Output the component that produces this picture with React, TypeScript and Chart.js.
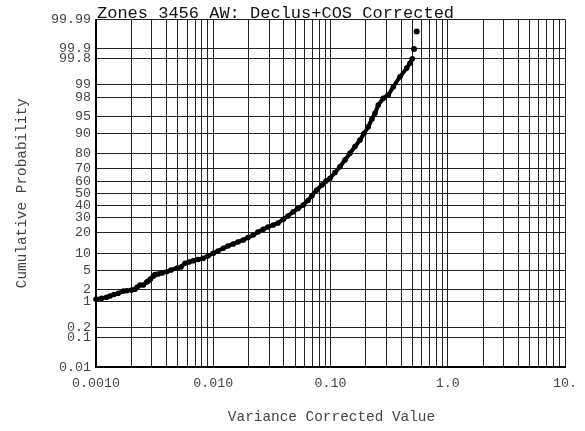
import React, { useEffect, useRef } from 'react';
import { Chart, registerables } from 'chart.js';

Chart.register(...registerables);

// Variance corrected values (x) and cumulative probability in percent (p)
const xValues = [
  0.00100, 0.001118, 0.001234, 0.001316, 0.001424, 0.001549, 0.001709, 0.001827, 0.002016, 0.002151,
  0.002237, 0.002373, 0.002532, 0.002706, 0.002793, 0.002916, 0.003082, 0.003185, 0.003380, 0.003655,
  0.004009, 0.004363, 0.004879, 0.005309, 0.005741, 0.006212, 0.006759, 0.007412, 0.008225, 0.009020,
  0.01001, 0.01098, 0.01218, 0.01336, 0.01483, 0.01626, 0.01804, 0.01979, 0.02196, 0.02408,
  0.02673, 0.02931, 0.03252, 0.03566, 0.03957, 0.04340, 0.04816, 0.05282, 0.05861, 0.06428,
  0.06954, 0.07627, 0.08462, 0.09153, 0.0990, 0.1092, 0.1205, 0.1329, 0.1466, 0.1618,
  0.1785, 0.1931, 0.2101, 0.2258, 0.2396, 0.2556, 0.2820, 0.3112, 0.3434, 0.3915,
  0.4466, 0.4764, 0.4986,
];
const pValues = [
  1.16, 1.23, 1.30, 1.39, 1.51, 1.61, 1.82, 1.85, 1.92, 1.99,
  2.21, 2.48, 2.48, 2.87, 3.02, 3.32, 3.83, 4.07, 4.20, 4.39,
  4.66, 5.02, 5.41, 5.72, 6.69, 7.06, 7.44, 7.81, 8.19, 8.96,
  9.94, 10.82, 11.94, 12.95, 13.87, 14.85, 15.87, 17.19, 18.58, 20.35,
  22.02, 23.50, 24.84, 26.21, 28.86, 31.31, 34.65, 37.21, 40.07, 43.83,
  48.08, 52.77, 57.01, 60.34, 62.55, 67.15, 71.51, 76.17, 80.38, 84.15,
  87.28, 89.95, 92.28, 94.40, 95.65, 97.05, 97.89, 98.23, 98.87, 99.37,
  99.63, 99.73, 99.80,
];
const topX = [0.5154, 0.5435];
const topP = [99.90, 99.973];

const probTicks = [0.01, 0.1, 0.2, 1, 2, 5, 10, 20, 30, 40, 50, 60, 70, 80, 90, 95, 98, 99, 99.8, 99.9, 99.99];
const probLabels = ['0.01', '0.1', '0.2', '1', '2', '5', '10', '20', '30', '40', '50', '60', '70', '80', '90', '95', '98', '99', '99.8', '99.9', '99.99'];
const decadeValues = [0.001, 0.01, 0.1, 1, 10];
const decadeLabels = ['0.0010', '0.010', '0.10', '1.0', '10.'];

const titleText = 'Zones 3456 AW: Declus+COS Corrected';
const xTitle = 'Variance Corrected Value';
const yTitle = 'Cumulative Probability';

const FONT = '"Liberation Mono", "DejaVu Sans Mono", monospace';

function probit(p: number): number {
  const a = [-3.969683028665376e1, 2.209460984245205e2, -2.759285104469687e2, 1.38357751867269e2, -3.066479806614716e1, 2.506628277459239];
  const b = [-5.447609879822406e1, 1.615858368580409e2, -1.556989798598866e2, 6.680131188771972e1, -1.328068155288572e1];
  const c = [-7.784894002430293e-3, -3.223964580411365e-1, -2.400758277161838, -2.549732539343734, 4.374664141464968, 2.938163982698783];
  const d = [7.784695709041462e-3, 3.224671290700398e-1, 2.445134137142996, 3.754408661907416];
  const plow = 0.02425;
  const phigh = 1 - plow;
  if (p < plow) {
    const q = Math.sqrt(-2 * Math.log(p));
    return (((((c[0] * q + c[1]) * q + c[2]) * q + c[3]) * q + c[4]) * q + c[5]) / ((((d[0] * q + d[1]) * q + d[2]) * q + d[3]) * q + 1);
  }
  if (p <= phigh) {
    const q = p - 0.5;
    const r = q * q;
    return ((((((a[0] * r + a[1]) * r + a[2]) * r + a[3]) * r + a[4]) * r + a[5]) * q) / (((((b[0] * r + b[1]) * r + b[2]) * r + b[3]) * r + b[4]) * r + 1);
  }
  const q = Math.sqrt(-2 * Math.log(1 - p));
  return -(((((c[0] * q + c[1]) * q + c[2]) * q + c[3]) * q + c[4]) * q + c[5]) / ((((d[0] * q + d[1]) * q + d[2]) * q + d[3]) * q + 1);
}

function gridXValues(): number[] {
  const out: number[] = [];
  for (let e = -3; e <= 0; e++) {
    for (let k = 1; k <= 9; k++) out.push(k * Math.pow(10, e));
  }
  out.push(10);
  return out;
}

const textPlugin = {
  id: 'texts',
  afterDraw(chart: any) {
    const ctx = chart.ctx;
    const area = chart.chartArea;
    ctx.save();
    ctx.fillStyle = '#111';
    ctx.font = `17px ${FONT}`;
    ctx.textAlign = 'left';
    ctx.textBaseline = 'alphabetic';
    ctx.fillText(titleText, 97, 17.5);

    ctx.fillStyle = '#444';
    ctx.font = `14.4px ${FONT}`;
    ctx.textAlign = 'center';
    ctx.textBaseline = 'middle';
    ctx.fillText(xTitle, (area.left + area.right) / 2 + 1, 417);

    ctx.translate(22, (area.top + area.bottom) / 2);
    ctx.rotate(-Math.PI / 2);
    ctx.fillText(yTitle, 0, 0);
    ctx.restore();
  },
};

export default function App() {
  const ref = useRef<HTMLCanvasElement | null>(null);

  useEffect(() => {
    if (!ref.current) return;
    const mainData = xValues.map((x, i) => ({ x, y: probit(pValues[i] / 100) }));
    const topData = topX.map((x, i) => ({ x, y: probit(topP[i] / 100) }));
    const gx = gridXValues();

    const chart = new Chart(ref.current, {
      type: 'scatter',
      data: {
        datasets: [
          {
            data: mainData,
            showLine: true,
            borderColor: '#000',
            borderWidth: 4,
            backgroundColor: '#000',
            pointRadius: 2.8,
            pointBorderWidth: 0,
            clip: false as any,
          },
          {
            data: topData,
            showLine: false,
            backgroundColor: '#000',
            pointRadius: 3,
            pointBorderWidth: 0,
            clip: false as any,
          },
        ],
      },
      options: {
        responsive: false,
        animation: false,
        events: [],
        layout: { padding: { top: 19.5, right: 20, left: 0, bottom: 0 } },
        plugins: {
          legend: { display: false },
          tooltip: { enabled: false },
          title: { display: false },
        },
        scales: {
          x: {
            type: 'logarithmic',
            min: 0.001,
            max: 10,
            afterBuildTicks: (s: any) => {
              s.ticks = gx.map((v) => ({ value: v }));
            },
            afterFit: (s: any) => {
              s.height = 64;
            },
            ticks: {
              autoSkip: false,
              maxRotation: 0,
              minRotation: 0,
              padding: 8,
              color: '#444',
              font: { family: FONT, size: 13.3 },
              callback: (v: any) => {
                const idx = decadeValues.findIndex((d) => Math.abs(Math.log10(Number(v)) - Math.log10(d)) < 1e-6);
                return idx >= 0 ? decadeLabels[idx] : '';
              },
            },
            grid: { color: '#222', lineWidth: 1, drawTicks: false },
            border: { color: '#000', width: 2 },
          },
          y: {
            type: 'linear',
            min: probit(0.0001),
            max: probit(0.9999),
            afterBuildTicks: (s: any) => {
              s.ticks = probTicks.map((p) => ({ value: probit(p / 100) }));
            },
            afterFit: (s: any) => {
              s.width = 96;
            },
            ticks: {
              autoSkip: false,
              padding: 5,
              color: '#444',
              font: { family: FONT, size: 13.3 },
              callback: (_v: any, i: number) => probLabels[i],
            },
            grid: { color: '#222', lineWidth: 1, drawTicks: false },
            border: { color: '#000', width: 2 },
          },
        },
      } as any,
      plugins: [textPlugin],
    });
    return () => chart.destroy();
  }, []);

  return (
    <div style={{ position: 'fixed', left: 0, top: 0, width: 585, height: 431, background: '#fff' }}>
      <canvas ref={ref} width={585} height={431} style={{ display: 'block', width: 585, height: 431 }} />
    </div>
  );
}
